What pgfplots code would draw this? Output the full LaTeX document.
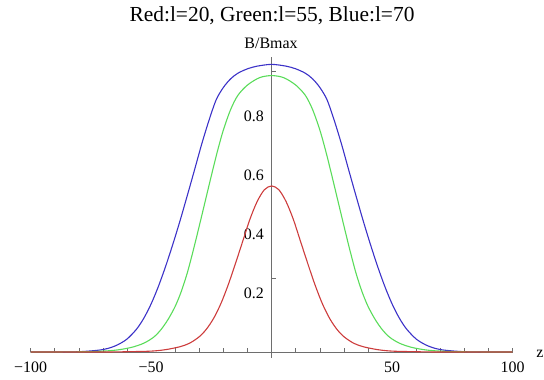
\documentclass[border=0pt]{standalone}
\usepackage{fontspec}
\setmainfont{Liberation Serif}
\usepackage{pgfplots}
\usepackage{pgfplotstable}
\pgfplotsset{compat=1.18}
\definecolor{cred}{RGB}{205,60,60}
\definecolor{cgreen}{RGB}{90,220,90}
\definecolor{cblue}{RGB}{60,50,200}
\definecolor{axgray}{RGB}{110,110,110}
\pgfplotstableread{
x y
-100 0
-90 0
-80 0.001
-72 0.006
-68 0.012
-64 0.024
-60 0.044
-56 0.078
-53 0.115
-50 0.163
-47 0.222
-44 0.290
-41 0.365
-38 0.445
-35 0.530
-32 0.617
-29 0.705
-26 0.785
-23 0.855
-20 0.897
-17 0.926
-14 0.945
-10 0.960
-6 0.969
0 0.975
6 0.969
10 0.960
14 0.945
17 0.926
20 0.897
23 0.855
26 0.785
29 0.705
32 0.617
35 0.530
38 0.445
41 0.365
44 0.290
47 0.222
50 0.163
53 0.115
56 0.078
60 0.044
64 0.024
68 0.012
72 0.006
80 0.001
90 0
100 0
}\blue
\pgfplotstableread{
x y
-100 0
-90 0
-78 0.001
-70 0.003
-64 0.007
-58 0.016
-53 0.030
-49 0.050
-46 0.075
-43 0.110
-40 0.155
-37.5 0.205
-35 0.268
-32.5 0.345
-30 0.428
-27.5 0.513
-25 0.598
-22.5 0.680
-20 0.753
-17 0.822
-14 0.870
-10 0.905
-5 0.930
0 0.937
5 0.930
10 0.905
14 0.870
17 0.822
20 0.753
22.5 0.680
25 0.598
27.5 0.513
30 0.428
32.5 0.345
35 0.268
37.5 0.205
40 0.155
43 0.110
46 0.075
49 0.050
53 0.030
58 0.016
64 0.007
70 0.003
78 0.001
90 0
100 0
}\green
\pgfplotstableread{
x y
-100 0
-70 0
-60 0.001
-50 0.003
-44 0.008
-38 0.018
-34 0.030
-30 0.052
-27 0.078
-24 0.115
-21 0.165
-18 0.228
-15 0.300
-12 0.375
-9 0.450
-6 0.510
-3 0.550
0 0.563
3 0.550
6 0.510
9 0.450
12 0.375
15 0.300
18 0.228
21 0.165
24 0.115
27 0.078
30 0.052
34 0.030
38 0.018
44 0.008
50 0.003
60 0.001
70 0
100 0
}\red
\begin{document}
\begin{tikzpicture}[x=1bp,y=1bp]
\path[use as bounding box] (0,0) rectangle (544,379);
\begin{axis}[
  at={(271.6bp,27bp)}, anchor=origin,
  scale only axis, width=481.9bp, height=300.9bp,
  xmin=-100, xmax=100, ymin=-0.02, ymax=1.0,
  axis lines=middle,
  axis line style={-, draw=axgray, line width=0.6bp},
  xtick={-100,-50,50,100}, xticklabels={−100,−50,50,100},
  ytick={0.2,0.4,0.6,0.8}, yticklabels={0.2,0.4,0.6,0.8},
  minor xtick={-100,-90,-80,-70,-60,-40,-30,-20,-10,10,20,30,40,60,70,80,90,100},
  minor ytick={0.25,0.95},
  major tick length=0pt, minor tick length=4bp,
  tick align=inside,
  tick style={axgray, line width=0.5bp},
  ticklabel style={font=\fontsize{16}{18}\selectfont, inner sep=0pt},
  xticklabel style={anchor=base, yshift=-20bp},
  yticklabel style={anchor=east, xshift=-7.5bp},
  clip=false,
]
\addplot[cblue, line width=1.1bp, smooth] table[x=x,y=y] {\blue};
\addplot[cgreen, line width=1.1bp, smooth] table[x=x,y=y] {\green};
\addplot[cred, line width=1.1bp, smooth] table[x=x,y=y] {\red};
\end{axis}
\node[anchor=base, font=\fontsize{21.5}{24}\selectfont] at (272,357.4) {Red:l=20, Green:l=55, Blue:l=70};
\node[anchor=base, font=\fontsize{16}{18}\selectfont] at (271,330.2) {B/Bmax};
\node[anchor=base, font=\fontsize{16}{18}\selectfont] at (540,22) {z};
\end{tikzpicture}
\end{document}
